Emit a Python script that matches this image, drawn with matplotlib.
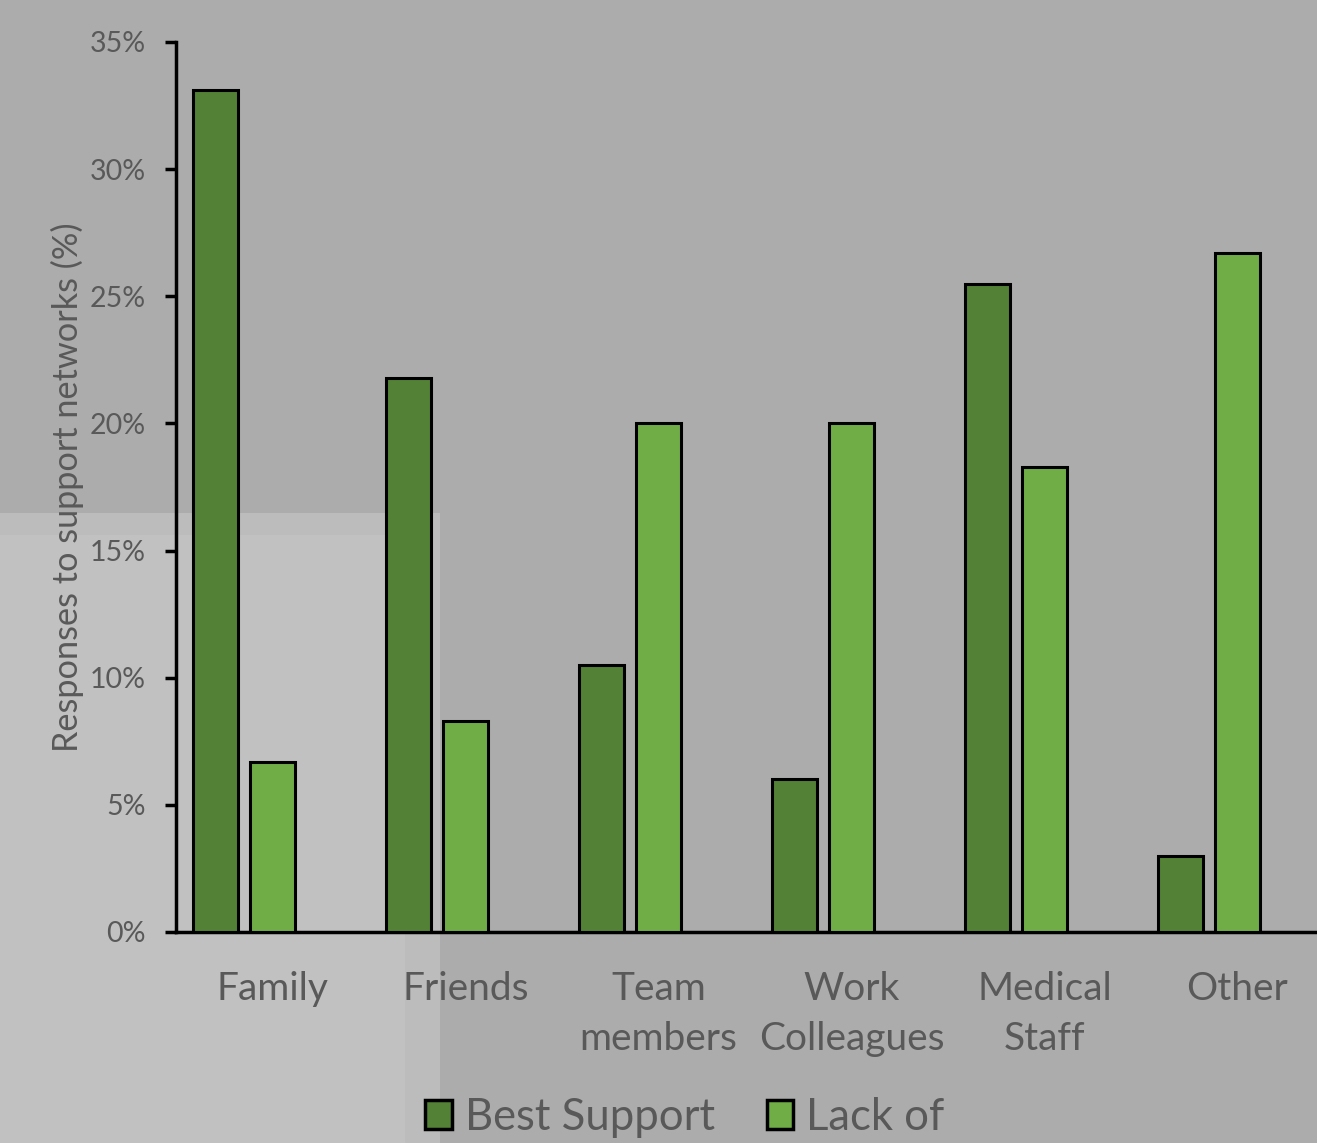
import matplotlib
matplotlib.use("Agg")
import matplotlib.pyplot as plt
from matplotlib.patches import Rectangle, Patch
import numpy as np

categories = ["Family", "Friends", "Team\nmembers", "Work\nColleagues", "Medical\nStaff", "Other"]
best_support = [33.1, 21.8, 10.5, 6.0, 25.5, 3.0]
lack_of = [6.7, 8.3, 20.0, 20.0, 18.3, 26.7]
yticks = [0, 5, 10, 15, 20, 25, 30, 35]

W, H = 1317, 1143
fig = plt.figure(figsize=(W / 100, H / 100), dpi=100)
fig.patch.set_facecolor("#acacac")

# background lighter panels
fig.patches.append(Rectangle((0, 0), 440 / W, (H - 513) / H, transform=fig.transFigure,
                             facecolor="#bcbcbc", edgecolor="none", zorder=-10))
fig.patches.append(Rectangle((0, 0), 405 / W, (H - 535) / H, transform=fig.transFigure,
                             facecolor="#c1c1c1", edgecolor="none", zorder=-9))

plt.rcParams["font.family"] = ["Lato", "DejaVu Sans"]
txt = "#595959"

ax = fig.add_axes([176 / W, (H - 932) / H, 1 - 176 / W, (932 - 42) / H])
ax.set_facecolor("none")

x = np.arange(len(categories))
pitch = 0.295
bw = 0.233
ax.bar(x - pitch, best_support, width=bw, color="#538135", edgecolor="black", linewidth=2.2,
       zorder=3, label="Best Support")
ax.bar(x, lack_of, width=bw, color="#70AD47", edgecolor="black", linewidth=2.2,
       zorder=3, label="Lack of")

ax.set_xlim(-0.5, -0.5 + (W - 176) / 193)
ax.set_ylim(0, 35)
ax.set_yticks(yticks)
ax.set_yticklabels([f"{v}%" for v in yticks], color=txt, fontsize=20.5)
ax.set_xticks(x)
ax.set_xticklabels(categories, color=txt, fontsize=28, linespacing=1.5)
ax.tick_params(axis="x", length=0, pad=28)
ax.tick_params(axis="y", length=8, width=2.5, direction="out", pad=14)

for s in ["top", "right"]:
    ax.spines[s].set_visible(False)
for s in ["left", "bottom"]:
    ax.spines[s].set_linewidth(2.5)
    ax.spines[s].set_color("black")

ax.set_ylabel("Responses to support networks (%)", color=txt, fontsize=24.7, labelpad=4)

handles = [Patch(facecolor="#538135", edgecolor="black", linewidth=2.5),
           Patch(facecolor="#70AD47", edgecolor="black", linewidth=2.5)]
fig.legend(handles, ["Best Support", "Lack of"], loc="center", bbox_to_anchor=(685 / W, 1 - 1117 / H),
           ncol=2, frameon=False, fontsize=31.4, labelcolor=txt, handlelength=0.6, handleheight=0.65,
           handletextpad=0.3, columnspacing=1.2, borderaxespad=0)

fig.savefig("out.png", dpi=100, facecolor=fig.get_facecolor())
